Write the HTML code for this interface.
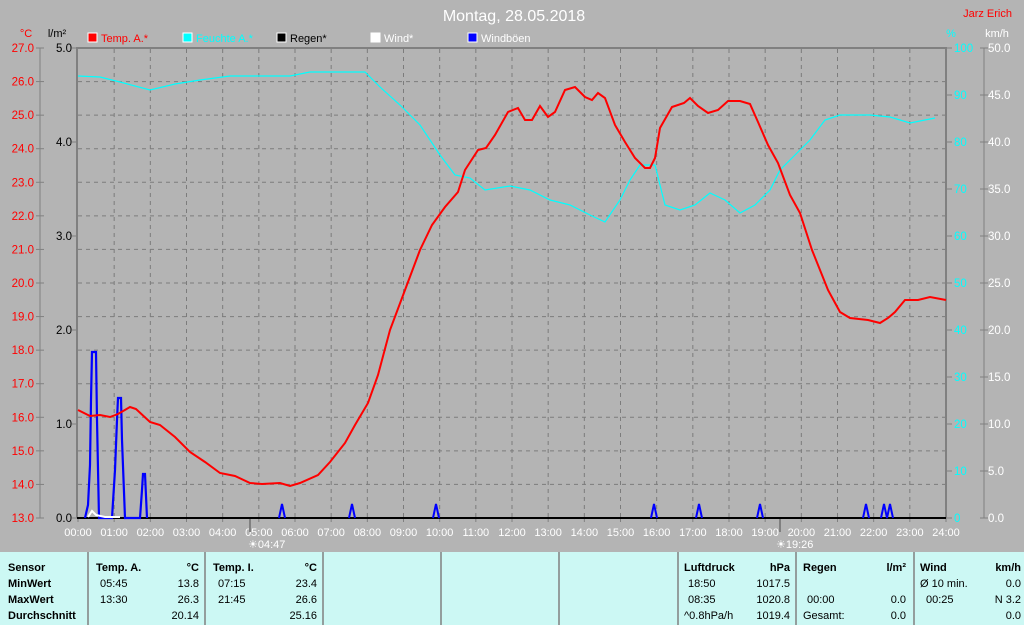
<!DOCTYPE html>
<html><head><meta charset="utf-8"><style>
body{margin:0;background:#b4b4b4;}
svg{display:block;font-family:"Liberation Sans",sans-serif;}
</style></head><body>
<svg width="1024" height="625" viewBox="0 0 1024 625">
<rect width="1024" height="625" fill="#b4b4b4"/>
<text x="514" y="21" font-size="16" fill="#fff" text-anchor="middle">Montag, 28.05.2018</text>
<text x="1012" y="17" font-size="11" fill="#f00" text-anchor="end">Jarz Erich</text>
<text x="26" y="37" font-size="11" fill="#f00" text-anchor="middle">°C</text>
<text x="57" y="37" font-size="11" fill="#000" text-anchor="middle">l/m²</text>
<text x="951" y="37" font-size="11" fill="#0ff" text-anchor="middle">%</text>
<text x="997" y="37" font-size="11" fill="#fff" text-anchor="middle">km/h</text>
<g font-size="11">
<rect x="88" y="33" width="9" height="9" fill="#f00" stroke="#fff"/><text x="101" y="42" fill="#f00">Temp. A.*</text>
<rect x="183" y="33" width="9" height="9" fill="#0ff" stroke="#fff"/><text x="196" y="42" fill="#0ff">Feuchte A.*</text>
<rect x="277" y="33" width="9" height="9" fill="#000" stroke="#fff"/><text x="290" y="42" fill="#000">Regen*</text>
<rect x="371" y="33" width="9" height="9" fill="#fff" stroke="#fff"/><text x="384" y="42" fill="#fff">Wind*</text>
<rect x="468" y="33" width="9" height="9" fill="#00f" stroke="#fff"/><text x="481" y="42" fill="#fff">Windböen</text>
</g>
<g stroke="#7c7c7c" stroke-dasharray="4,4" stroke-width="1" id="grid"></g>
<line x1="40" y1="48" x2="40" y2="518" stroke="#808080"/>
<line x1="77" y1="47" x2="77" y2="518" stroke="#808080" stroke-width="2"/>
<line x1="77" y1="48" x2="946" y2="48" stroke="#808080" stroke-width="2"/>
<line x1="946" y1="47" x2="946" y2="518" stroke="#808080" stroke-width="2"/>
<line x1="984" y1="48" x2="984" y2="518" stroke="#808080"/>
<g id="labels" font-size="11.5"></g>
<line x1="77" y1="518" x2="946" y2="518" stroke="#000" stroke-width="2"/>
<polyline fill="none" stroke="#0ff" stroke-width="1.2" points="78,76 100,77 120,82 150,90 175,84 200,80 230,76 290,76 310,72 365,72 380,87 400,105 420,125 440,155 455,175 470,178 485,190 510,186 530,190 550,200 570,205 590,215 605,222 620,200 630,180 640,165 655,165 665,205 680,210 695,205 710,193 725,200 740,213 755,205 770,190 780,170 795,155 810,140 825,120 840,115 870,115 890,117 910,123 935,118"/>
<polyline fill="none" stroke="#00f" stroke-width="2.2" points="85,518 88,505 90,465 91,400 92,352 96,352 97,420 99,518 112,518 115,470 117,420 118,398 121,398 122,440 125,518 140,518 142,490 143,474 145,474 147,518"/>
<g fill="none" stroke="#00f" stroke-width="2">
<polyline points="279,518 282,504 285,518"/><polyline points="349,518 352,504 355,518"/><polyline points="433,518 436,504 439,518"/><polyline points="651,518 654,504 657,518"/><polyline points="696,518 699,504 702,518"/><polyline points="757,518 760,504 763,518"/><polyline points="863,518 866,504 869,518"/><polyline points="881,518 884,504 887,518 890,504 893,518"/>
</g>
<polyline fill="none" stroke="#fff" stroke-width="2" points="88,517 92,511 96,515 105,517 120,517"/>
<polyline fill="none" stroke="#f00" stroke-width="2" points="78,410 90,416 100,415 110,417 118,414 130,407 136,409 150,422 160,425 175,437 190,452 205,462 220,473 235,476 250,483 262,484 280,483 290,486 300,483 318,475 330,462 345,443 355,425 368,403 378,375 390,330 405,290 420,250 432,225 445,207 458,192 465,170 478,150 486,148 495,135 508,112 518,108 525,120 532,120 540,106 548,117 555,112 565,90 575,87 585,97 592,100 598,93 605,98 615,125 625,142 635,158 645,168 650,168 655,158 660,128 672,107 684,103 690,98 698,106 708,113 718,110 728,101 740,101 750,104 758,122 768,145 778,163 790,195 800,213 812,250 828,290 840,312 850,318 868,320 880,323 888,318 895,312 905,300 918,300 930,297 946,300"/>
<line x1="250" y1="519" x2="250" y2="532" stroke="#808080" stroke-width="2"/>
<line x1="780" y1="519" x2="780" y2="532" stroke="#808080" stroke-width="2"/>
<text x="248" y="548" font-size="11" fill="#fff">☀04:47</text>
<text x="776" y="548" font-size="11" fill="#fff">☀19:26</text>
<rect x="0" y="552" width="1024" height="73" fill="#ccf8f4"/>
<g stroke="#808080" stroke-width="1.5">
<line x1="88" y1="552" x2="88" y2="625"/><line x1="205" y1="552" x2="205" y2="625"/><line x1="323" y1="552" x2="323" y2="625"/><line x1="441" y1="552" x2="441" y2="625"/><line x1="559" y1="552" x2="559" y2="625"/><line x1="678" y1="552" x2="678" y2="625"/><line x1="796" y1="552" x2="796" y2="625"/><line x1="914" y1="552" x2="914" y2="625"/>
</g>
<g font-size="11" fill="#000">
<g font-weight="bold"><text x="8" y="571">Sensor</text><text x="8" y="587">MinWert</text><text x="8" y="603">MaxWert</text><text x="8" y="619">Durchschnitt</text>
<text x="96" y="571">Temp. A.</text><text x="199" y="571" text-anchor="end">°C</text>
<text x="213" y="571">Temp. I.</text><text x="317" y="571" text-anchor="end">°C</text>
<text x="684" y="571">Luftdruck</text><text x="790" y="571" text-anchor="end">hPa</text>
<text x="803" y="571">Regen</text><text x="906" y="571" text-anchor="end">l/m²</text>
<text x="920" y="571">Wind</text><text x="1021" y="571" text-anchor="end">km/h</text></g>
<text x="100" y="587">05:45</text><text x="199" y="587" text-anchor="end">13.8</text>
<text x="100" y="603">13:30</text><text x="199" y="603" text-anchor="end">26.3</text>
<text x="199" y="619" text-anchor="end">20.14</text>
<text x="218" y="587">07:15</text><text x="317" y="587" text-anchor="end">23.4</text>
<text x="218" y="603">21:45</text><text x="317" y="603" text-anchor="end">26.6</text>
<text x="317" y="619" text-anchor="end">25.16</text>
<text x="688" y="587">18:50</text><text x="790" y="587" text-anchor="end">1017.5</text>
<text x="688" y="603">08:35</text><text x="790" y="603" text-anchor="end">1020.8</text>
<text x="684" y="619">^0.8hPa/h</text><text x="790" y="619" text-anchor="end">1019.4</text>
<text x="807" y="603">00:00</text><text x="906" y="603" text-anchor="end">0.0</text>
<text x="803" y="619">Gesamt:</text><text x="906" y="619" text-anchor="end">0.0</text>
<text x="920" y="587">Ø 10 min.</text><text x="1021" y="587" text-anchor="end">0.0</text>
<text x="926" y="603">00:25</text><text x="1021" y="603" text-anchor="end">N 3.2</text>
<text x="1021" y="619" text-anchor="end">0.0</text>
</g>
<script>
var ns="http://www.w3.org/2000/svg",g=document.getElementById("grid"),L=document.getElementById("labels");
function el(p,t,a,txt){var e=document.createElementNS(ns,t);for(var k in a)e.setAttribute(k,a[k]);if(txt)e.textContent=txt;p.appendChild(e);return e;}
for(var i=1;i<24;i++){var x=78+i*868/24;el(g,"line",{x1:x,y1:49,x2:x,y2:518});}
for(var j=1;j<14;j++){var y=518-j*470/14;el(g,"line",{x1:78,y1:y,x2:945,y2:y});}
for(var j=0;j<=14;j++){var y=518-j*470/14;el(L,"text",{x:34,y:y+4,fill:"#f00","text-anchor":"end"},(13+j).toFixed(1));el(L,"line",{x1:36,y1:y,x2:44,y2:y,stroke:"#808080"});}
for(var j=0;j<=5;j++){var y=518-j*94;el(L,"text",{x:72,y:y+4,fill:"#000","text-anchor":"end"},j.toFixed(1));el(L,"line",{x1:72,y1:y,x2:77,y2:y,stroke:"#808080"});}
for(var j=0;j<=10;j++){var y=518-j*47;el(L,"text",{x:954,y:y+4,fill:"#0ff"},String(j*10));el(L,"line",{x1:946,y1:y,x2:952,y2:y,stroke:"#808080"});el(L,"text",{x:988,y:y+4,fill:"#fff"},(j*5).toFixed(1));el(L,"line",{x1:980,y1:y,x2:988,y2:y,stroke:"#808080"});}
for(var i=0;i<=24;i++){var x=78+i*868/24;el(L,"text",{x:x,y:536,fill:"#fff","text-anchor":"middle","font-size":"11"},(i<10?"0":"")+i+":00");el(L,"line",{x1:x,y1:518,x2:x,y2:522,stroke:"#808080"});}
</script>
</svg>
</body></html>
